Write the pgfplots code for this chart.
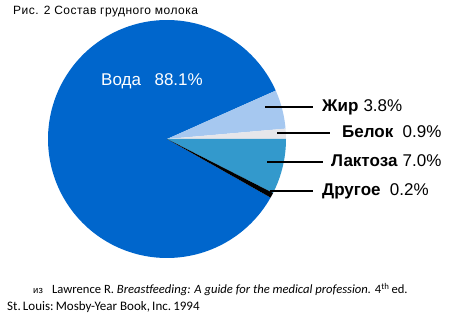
\documentclass[border=0pt]{standalone}
\usepackage{fontspec}
\setmainfont{Liberation Sans}
\newfontfamily\calib{Carlito}
\usepackage{pgfplots}
\pgfplotsset{compat=1.18}

\definecolor{voda}{RGB}{0,102,204}
\definecolor{zhir}{RGB}{166,200,240}
\definecolor{belok}{RGB}{230,230,234}
\definecolor{laktoza}{RGB}{51,153,204}
\definecolor{drugoe}{RGB}{0,0,0}

\begin{document}
\begin{tikzpicture}
\path (0,0) rectangle (465bp,326bp);
\begin{axis}[at={(0,0)}, anchor=south west, width=465bp, height=326bp,
  scale only axis, xmin=0, xmax=465, ymin=0, ymax=326, hide axis, clip=false]
% slices: start and end angle in degrees, as drawn in the reference
% Voda 88.1%, Zhir 3.8%, Belok 0.9%, Laktoza 7.0%, Drugoe 0.2%
\addplot[fill=voda, draw=none, domain=24:330.5, samples=160] ({167+119*cos(x)},{187+119*sin(x)}) -- (axis cs:167,187) -- cycle;
\addplot[fill=zhir, draw=none, domain=5:24, samples=20] ({167+119*cos(x)},{187+119*sin(x)}) -- (axis cs:167,187) -- cycle;
\addplot[fill=belok, draw=none, domain=0:5, samples=8] ({167+119*cos(x)},{187+119*sin(x)}) -- (axis cs:167,187) -- cycle;
\addplot[fill=laktoza, draw=none, domain=-27:0, samples=25] ({167+119*cos(x)},{187+119*sin(x)}) -- (axis cs:167,187) -- cycle;
\addplot[fill=drugoe, draw=none, domain=-29.5:-27, samples=5] ({167+119*cos(x)},{187+119*sin(x)}) -- (axis cs:167,187) -- cycle;

% leader lines
\draw[line width=2.5bp] (axis cs:265,219) -- (axis cs:313,219);
\draw[line width=2.5bp] (axis cs:277,193) -- (axis cs:330,193);
\draw[line width=2.5bp] (axis cs:267,164) -- (axis cs:323,164);
\draw[line width=2.5bp] (axis cs:270,135) -- (axis cs:313,135);

% labels
\node[anchor=base west, inner sep=0pt, text=white, font=\fontsize{17bp}{20bp}\selectfont] at (axis cs:101,240) {Вода\hspace{0.8em}88.1\%};
\node[anchor=base west, inner sep=0pt, font=\fontsize{17bp}{20bp}\selectfont] at (axis cs:322,214) {\textbf{Жир}\hspace{0.3em}3.8\%};
\node[anchor=base west, inner sep=0pt, font=\fontsize{17bp}{20bp}\selectfont] at (axis cs:342,188) {\textbf{Белок}\hspace{0.55em}0.9\%};
\node[anchor=base west, inner sep=0pt, font=\fontsize{17bp}{20bp}\selectfont] at (axis cs:331,159) {\textbf{Лактоза}\hspace{0.3em}7.0\%};
\node[anchor=base west, inner sep=0pt, font=\fontsize{17bp}{20bp}\selectfont] at (axis cs:322,130) {\textbf{Другое}\hspace{0.55em}0.2\%};

% title
\node[anchor=base west, inner sep=0pt, font=\fontsize{12bp}{14bp}\selectfont\addfontfeatures{LetterSpace=4}] at (axis cs:13,311) {Рис. 2 Состав грудного молока};

% source
\node[anchor=base west, inner sep=0pt, font=\fontsize{9.5bp}{11bp}\selectfont] at (axis cs:33,32) {из};
\node[anchor=base west, inner sep=0pt, font=\calib\fontsize{12.6bp}{15bp}\selectfont] at (axis cs:52,32) {Lawrence R. \textit{Breastfeeding: A guide for the medical profession.} 4\textsuperscript{th}\,ed.};
\node[anchor=base west, inner sep=0pt, font=\calib\fontsize{13bp}{15bp}\selectfont] at (axis cs:7,15) {St.\,Louis:\,Mosby-Year Book,\,Inc.\,1994};
\end{axis}
\end{tikzpicture}
\end{document}
